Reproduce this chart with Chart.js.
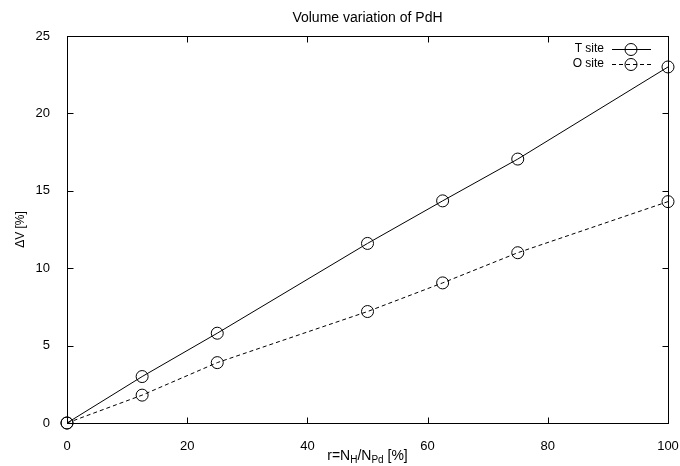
<!DOCTYPE html>
<html><head><meta charset="utf-8">
<script src="https://cdn.jsdelivr.net/npm/chart.js@4/dist/chart.umd.min.js"></script>
<style>html,body{margin:0;padding:0;background:#fff}#wrap{width:680px;height:466px}</style>
</head><body><div id="wrap"><canvas id="c" width="680" height="466"></canvas></div>
<script>
const ratios = [0, 12.5, 25, 50, 62.5, 75, 100];
const tSite = [0, 3.0, 5.8, 11.6, 14.35, 17.05, 23.0];
const oSite = [0, 1.8, 3.9, 7.2, 9.05, 11.0, 14.3];
const seriesLabels = ["T site", "O site"];
const xTicks = [0, 20, 40, 60, 80, 100];
const yTicks = [0, 5, 10, 15, 20, 25];
const titleText = "Volume variation of PdH";
const yTitle = "\u0394V [%]";

const FONT = '"Liberation Sans", Arial, Helvetica, sans-serif';

function pts(xs, ys){ return xs.map((x,i)=>({x:x, y:ys[i]})); }

const deco = {
  id: 'deco',
  afterDraw(chart){
    const ctx = chart.ctx, a = chart.chartArea, xs = chart.scales.x, ys = chart.scales.y;
    ctx.save();
    ctx.strokeStyle = '#000'; ctx.lineWidth = 1; ctx.setLineDash([]);
    const L = Math.round(a.left)+0.5, R = Math.round(a.right)+0.5, T = Math.round(a.top)+0.5, B = Math.round(a.bottom)+0.5;
    ctx.strokeRect(L, T, R-L, B-T);
    const tl = 6;
    ctx.beginPath();
    xTicks.forEach(v=>{ const p = Math.round(xs.getPixelForValue(v))+0.5;
      ctx.moveTo(p,B); ctx.lineTo(p,B-tl); ctx.moveTo(p,T); ctx.lineTo(p,T+tl); });
    yTicks.forEach(v=>{ const p = Math.round(ys.getPixelForValue(v))+0.5;
      ctx.moveTo(L,p); ctx.lineTo(L+tl,p); ctx.moveTo(R,p); ctx.lineTo(R-tl,p); });
    ctx.stroke();

    ctx.fillStyle = '#000';
    const cx = (a.left + a.right)/2;
    ctx.font = '14px ' + FONT;
    ctx.textAlign = 'center'; ctx.textBaseline = 'alphabetic';
    ctx.fillText(titleText, cx, 22);

    // y title
    ctx.save();
    ctx.font = '12px ' + FONT;
    ctx.textBaseline = 'middle';
    ctx.translate(21, (a.top+a.bottom)/2);
    ctx.rotate(-Math.PI/2);
    ctx.fillText(yTitle, 0, 0);
    ctx.restore();

    // x title with subscripts
    const parts = [["r=N",0],["H",1],["/N",0],["Pd",1],[" [%]",0]];
    const fN = '14px ' + FONT, fS = '10px ' + FONT;
    let w = 0;
    parts.forEach(p=>{ ctx.font = p[1]?fS:fN; w += ctx.measureText(p[0]).width; });
    let x = cx - w/2;
    ctx.textAlign = 'left'; ctx.textBaseline = 'alphabetic';
    const base = 460;
    parts.forEach(p=>{ ctx.font = p[1]?fS:fN; ctx.fillText(p[0], x, base + (p[1]?3:0)); x += ctx.measureText(p[0]).width; });

    // legend
    ctx.font = '12px ' + FONT;
    ctx.textAlign = 'right'; ctx.textBaseline = 'middle';
    chart.data.datasets.forEach((ds,i)=>{
      const y = 49 + i*15;
      ctx.fillText(ds.label, 604, y);
      ctx.setLineDash(ds.borderDash || []);
      ctx.beginPath(); ctx.moveTo(612, y+0.5); ctx.lineTo(651, y+0.5); ctx.stroke();
      ctx.setLineDash([]);
      ctx.beginPath(); ctx.arc(631, y+0.5, 6, 0, Math.PI*2); ctx.stroke();
    });
    ctx.restore();
  }
};

new Chart(document.getElementById('c'), {
  type: 'scatter',
  data: { datasets: [
    { label: seriesLabels[0], data: pts(ratios, tSite), showLine: true, borderColor: '#000', borderWidth: 1,
      pointStyle: 'circle', pointRadius: 6, pointBorderWidth: 1, pointBackgroundColor: 'rgba(0,0,0,0)', pointBorderColor: '#000', clip: false, tension: 0 },
    { label: seriesLabels[1], data: pts(ratios, oSite), showLine: true, borderColor: '#000', borderWidth: 1, borderDash: [4,3],
      pointStyle: 'circle', pointRadius: 6, pointBorderWidth: 1, pointBackgroundColor: 'rgba(0,0,0,0)', pointBorderColor: '#000', clip: false, tension: 0 }
  ]},
  options: {
    responsive: false, animation: false, devicePixelRatio: 1,
    layout: { padding: { top: 36, right: 12, left: 0, bottom: 0 } },
    plugins: { legend: { display: false }, title: { display: false }, tooltip: { enabled: false } },
    scales: {
      x: { type: 'linear', min: 0, max: 100,
        afterFit(s){ s.height = 43; s.paddingRight = 0; s.paddingLeft = 0; },
        afterBuildTicks(s){ s.ticks = xTicks.map(v=>({value:v})); },
        grid: { display: false }, border: { display: false },
        ticks: { color: '#000', font: { family: FONT, size: 13 }, padding: 8, maxRotation: 0 } },
      y: { type: 'linear', min: 0, max: 25,
        afterFit(s){ s.width = 67; s.paddingTop = 0; s.paddingBottom = 0; },
        afterBuildTicks(s){ s.ticks = yTicks.map(v=>({value:v})); },
        grid: { display: false }, border: { display: false },
        ticks: { color: '#000', font: { family: FONT, size: 13 }, padding: 9 } }
    }
  },
  plugins: [deco]
});
</script></body></html>
